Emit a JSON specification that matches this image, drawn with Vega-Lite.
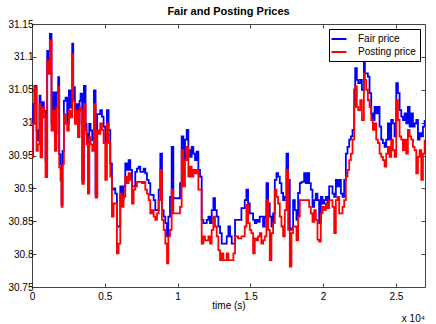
{
  "$schema": "https://vega.github.io/schema/vega-lite/v6.json",
  "width": 393,
  "height": 263,
  "autosize": {"type": "none"},
  "padding": {"left": 32, "top": 24, "right": 11, "bottom": 37},
  "background": "white",
  "title": {"text": "Fair and Posting Prices", "fontSize": 11, "fontWeight": "bold", "font": "Liberation Sans", "color": "black", "offset": 2, "anchor": "middle"},
  "config": {
    "view": {"stroke": "#444444", "strokeWidth": 1},
    "axis": {"grid": false, "domain": false, "tickColor": "#444444", "tickSize": -4, "labelFont": "Liberation Sans", "labelFontSize": 10, "labelColor": "black", "titleFont": "Liberation Sans", "titleFontSize": 10, "titleFontWeight": "normal", "titleColor": "black", "labelFlush": false, "labelOverlap": false},
    "legend": {"strokeColor": "black", "fillColor": "white", "padding": 4, "cornerRadius": 0, "symbolType": "M-1.5,0H1.5", "symbolSize": 100, "symbolStrokeWidth": 2, "labelOffset": 13, "labelFont": "Liberation Sans", "labelFontSize": 10, "labelColor": "black", "rowPadding": 2}
  },
  "datasets": {
    "prices": [
      {"t":0,"fair":30.957,"posting":30.947},{"t":80,"fair":31.028,"posting":30.998},{"t":172,"fair":31.056,"posting":31.054},{"t":310,"fair":30.988,"posting":30.957},{"t":401,"fair":30.973,"posting":30.967},{"t":516,"fair":31.041,"posting":31.028},{"t":585,"fair":30.988,"posting":30.947},{"t":699,"fair":31.031,"posting":31.023},{"t":814,"fair":31.018,"posting":31.008},{"t":929,"fair":30.942,"posting":30.917},
      {"t":1043,"fair":31.109,"posting":31.094},{"t":1158,"fair":31.094,"posting":31.074},{"t":1227,"fair":31.135,"posting":31.125},{"t":1341,"fair":30.998,"posting":30.988},{"t":1456,"fair":31.046,"posting":31.018},{"t":1570,"fair":30.983,"posting":30.957},{"t":1685,"fair":31.046,"posting":31.023},{"t":1800,"fair":31.069,"posting":31.054},{"t":1869,"fair":30.952,"posting":30.932},{"t":1960,"fair":30.937,"posting":30.912},
      {"t":2029,"fair":30.876,"posting":30.872},{"t":2098,"fair":30.957,"posting":30.937},{"t":2190,"fair":31.033,"posting":31.013},{"t":2304,"fair":31.038,"posting":30.998},{"t":2419,"fair":30.998,"posting":30.988},{"t":2533,"fair":31.049,"posting":31.018},{"t":2648,"fair":31.023,"posting":31.008},{"t":2763,"fair":31.12,"posting":31.104},{"t":2831,"fair":31.054,"posting":31.033},{"t":2946,"fair":31.008,"posting":30.998},
      {"t":3061,"fair":31.028,"posting":31.018},{"t":3152,"fair":30.998,"posting":30.978},{"t":3267,"fair":31.033,"posting":31.023},{"t":3336,"fair":31.044,"posting":31.018},{"t":3450,"fair":30.912,"posting":30.907},{"t":3565,"fair":31.056,"posting":31.028},{"t":3680,"fair":30.998,"posting":30.988},{"t":3749,"fair":30.983,"posting":30.967},{"t":3840,"fair":30.897,"posting":30.892},{"t":3932,"fair":30.998,"posting":30.978},
      {"t":4024,"fair":30.988,"posting":30.967},{"t":4138,"fair":30.973,"posting":30.957},{"t":4253,"fair":31.049,"posting":31.028},{"t":4368,"fair":30.891,"posting":30.886},{"t":4482,"fair":31.013,"posting":30.988},{"t":4597,"fair":31.013,"posting":30.983},
      {"t":4688,"fair":31.019,"posting":30.999},{"t":4803,"fair":31.009,"posting":30.989},{"t":4918,"fair":30.994,"posting":30.969},{"t":5032,"fair":30.969,"posting":30.913},{"t":5147,"fair":31.019,"posting":30.999},{"t":5262,"fair":30.989,"posting":30.969},{"t":5376,"fair":30.938,"posting":30.918},{"t":5491,"fair":30.898,"posting":30.857},{"t":5606,"fair":30.9,"posting":30.877},{"t":5720,"fair":30.892,"posting":30.877},
      {"t":5835,"fair":30.842,"posting":30.801},{"t":5949,"fair":30.842,"posting":30.816},{"t":6064,"fair":30.903,"posting":30.892},{"t":6179,"fair":30.882,"posting":30.872},{"t":6293,"fair":30.903,"posting":30.887},{"t":6408,"fair":30.938,"posting":30.918},{"t":6523,"fair":30.928,"posting":30.908},{"t":6637,"fair":30.943,"posting":30.923},{"t":6752,"fair":30.928,"posting":30.913},{"t":6867,"fair":30.903,"posting":30.877},
      {"t":6981,"fair":30.903,"posting":30.898},{"t":7096,"fair":30.925,"posting":30.903},{"t":7211,"fair":30.93,"posting":30.91},{"t":7325,"fair":30.933,"posting":30.91},{"t":7440,"fair":30.925,"posting":30.91},{"t":7554,"fair":30.925,"posting":30.908},{"t":7669,"fair":30.93,"posting":30.91},{"t":7784,"fair":30.923,"posting":30.898},{"t":7898,"fair":30.913,"posting":30.892},{"t":8013,"fair":30.908,"posting":30.882},
      {"t":8127,"fair":30.89,"posting":30.862},{"t":8242,"fair":30.89,"posting":30.867},{"t":8357,"fair":30.882,"posting":30.857},{"t":8471,"fair":30.867,"posting":30.852},{"t":8586,"fair":30.867,"posting":30.862},{"t":8701,"fair":30.898,"posting":30.882},{"t":8815,"fair":30.953,"posting":30.928},{"t":8930,"fair":30.867,"posting":30.852},{"t":9045,"fair":30.857,"posting":30.837},{"t":9159,"fair":30.847,"posting":30.816},
      {"t":9274,"fair":30.827,"posting":30.786},{"t":9366,"fair":30.857,"posting":30.827},{"t":9480,"fair":30.887,"posting":30.837},{"t":9595,"fair":30.963,"posting":30.898},{"t":9709,"fair":30.885,"posting":30.862},{"t":9824,"fair":30.885,"posting":30.862},{"t":9939,"fair":30.885,"posting":30.862},{"t":10053,"fair":30.885,"posting":30.862},{"t":10168,"fair":30.908,"posting":30.872},{"t":10283,"fair":30.979,"posting":30.958},
      {"t":10397,"fair":30.943,"posting":30.903},{"t":10512,"fair":30.974,"posting":30.943},{"t":10627,"fair":30.989,"posting":30.963},{"t":10741,"fair":30.958,"posting":30.918},{"t":10856,"fair":30.948,"posting":30.933},{"t":10970,"fair":30.963,"posting":30.918},{"t":11085,"fair":30.953,"posting":30.928},{"t":11200,"fair":30.943,"posting":30.923},{"t":11314,"fair":30.956,"posting":30.928},{"t":11429,"fair":30.928,"posting":30.898},
      {"t":11544,"fair":30.918,"posting":30.898},{"t":11658,"fair":30.852,"posting":30.816},{"t":11773,"fair":30.847,"posting":30.827},{"t":11888,"fair":30.847,"posting":30.821},{"t":12002,"fair":30.852,"posting":30.821},{"t":12117,"fair":30.857,"posting":30.827},{"t":12231,"fair":30.847,"posting":30.816},{"t":12346,"fair":30.867,"posting":30.837},{"t":12461,"fair":30.885,"posting":30.857},{"t":12575,"fair":30.867,"posting":30.842},
      {"t":12690,"fair":30.857,"posting":30.827},{"t":12805,"fair":30.842,"posting":30.806},{"t":12919,"fair":30.832,"posting":30.791},{"t":13034,"fair":30.816,"posting":30.801},{"t":13148,"fair":30.816,"posting":30.791},{"t":13263,"fair":30.816,"posting":30.791},{"t":13378,"fair":30.827,"posting":30.801},{"t":13492,"fair":30.842,"posting":30.791},{"t":13607,"fair":30.827,"posting":30.791},{"t":13722,"fair":30.816,"posting":30.791},
      {"t":13836,"fair":30.816,"posting":30.801},{"t":13951,"fair":30.852,"posting":30.827},{"t":14043,"fair":30.852,"posting":30.827},{"t":14157,"fair":30.852,"posting":30.824},{"t":14387,"fair":30.87,"posting":30.827},{"t":14616,"fair":30.882,"posting":30.842},{"t":14730,"fair":30.898,"posting":30.875},{"t":14845,"fair":30.877,"posting":30.847},{"t":14960,"fair":30.862,"posting":30.837},{"t":15074,"fair":30.862,"posting":30.832},
      {"t":15189,"fair":30.852,"posting":30.801},{"t":15304,"fair":30.847,"posting":30.824},{"t":15418,"fair":30.852,"posting":30.821},{"t":15533,"fair":30.849,"posting":30.827},{"t":15647,"fair":30.857,"posting":30.832},{"t":15762,"fair":30.857,"posting":30.816},{"t":15877,"fair":30.842,"posting":30.821},{"t":15991,"fair":30.857,"posting":30.827},{"t":16106,"fair":30.908,"posting":30.882},{"t":16221,"fair":30.877,"posting":30.837},
      {"t":16335,"fair":30.857,"posting":30.791},{"t":16450,"fair":30.842,"posting":30.832},{"t":16565,"fair":30.862,"posting":30.847},{"t":16679,"fair":30.913,"posting":30.898},{"t":16794,"fair":30.923,"posting":30.887},{"t":16908,"fair":30.918,"posting":30.877},{"t":17023,"fair":30.908,"posting":30.857},{"t":17138,"fair":30.893,"posting":30.842},{"t":17252,"fair":30.882,"posting":30.827},{"t":17367,"fair":30.887,"posting":30.867},
      {"t":17482,"fair":30.953,"posting":30.928},{"t":17596,"fair":30.913,"posting":30.837},{"t":17711,"fair":30.837,"posting":30.781},{"t":17825,"fair":30.839,"posting":30.832},{"t":17940,"fair":30.882,"posting":30.842},{"t":18055,"fair":30.867,"posting":30.842},{"t":18169,"fair":30.852,"posting":30.821},{"t":18284,"fair":30.893,"posting":30.857},{"t":18399,"fair":30.908,"posting":30.882},{"t":18513,"fair":30.91,"posting":30.882},
      {"t":18628,"fair":30.91,"posting":30.882},{"t":18697,"fair":30.923,"posting":30.882},{"t":18811,"fair":30.908,"posting":30.882},{"t":18926,"fair":30.923,"posting":30.882},{"t":19041,"fair":30.908,"posting":30.872},{"t":19155,"fair":30.898,"posting":30.862},{"t":19270,"fair":30.872,"posting":30.849},{"t":19385,"fair":30.882,"posting":30.867},{"t":19499,"fair":30.892,"posting":30.852},{"t":19614,"fair":30.882,"posting":30.822},
      {"t":19728,"fair":30.847,"posting":30.819},{"t":19843,"fair":30.887,"posting":30.862},{"t":19958,"fair":30.877,"posting":30.872},{"t":20072,"fair":30.882,"posting":30.867},{"t":20187,"fair":30.887,"posting":30.877},{"t":20302,"fair":30.877,"posting":30.87},{"t":20416,"fair":30.903,"posting":30.882},{"t":20531,"fair":30.903,"posting":30.882},{"t":20645,"fair":30.892,"posting":30.872},{"t":20760,"fair":30.887,"posting":30.832},
      {"t":20875,"fair":30.913,"posting":30.882},{"t":20989,"fair":30.903,"posting":30.887},{"t":21104,"fair":30.913,"posting":30.862},{"t":21219,"fair":30.892,"posting":30.862},{"t":21333,"fair":30.887,"posting":30.872},{"t":21448,"fair":30.913,"posting":30.882},{"t":21563,"fair":30.953,"posting":30.918},{"t":21677,"fair":30.963,"posting":30.928},{"t":21792,"fair":30.974,"posting":30.943},{"t":21906,"fair":30.979,"posting":30.953},
      {"t":22021,"fair":30.989,"posting":30.974},{"t":22136,"fair":31.05,"posting":31.024},{"t":22204,"fair":31.083,"posting":31.055},{"t":22319,"fair":31.065,"posting":31.024},{"t":22411,"fair":31.06,"posting":31.019},{"t":22549,"fair":31.065,"posting":31.034},{"t":22663,"fair":31.05,"posting":31.004},{"t":22801,"fair":31.105,"posting":31.075},{"t":22869,"fair":31.075,"posting":31.065},{"t":22961,"fair":31.075,"posting":31.05},
      {"t":23076,"fair":31.07,"posting":31.034},{"t":23190,"fair":31.045,"posting":31.024},{"t":23305,"fair":31.014,"posting":31.004},{"t":23420,"fair":31.004,"posting":30.989},{"t":23534,"fair":31.024,"posting":30.999},{"t":23649,"fair":31.014,"posting":30.974},{"t":23764,"fair":31.024,"posting":30.969},{"t":23878,"fair":30.994,"posting":30.953},{"t":23993,"fair":30.974,"posting":30.948},{"t":24107,"fair":30.969,"posting":30.943},
      {"t":24222,"fair":30.963,"posting":30.933},{"t":24337,"fair":30.974,"posting":30.953},{"t":24451,"fair":30.999,"posting":30.963},{"t":24566,"fair":30.974,"posting":30.948},{"t":24681,"fair":31.004,"posting":30.974},{"t":24795,"fair":30.999,"posting":30.958},{"t":24910,"fair":30.979,"posting":30.948},{"t":25025,"fair":31.06,"posting":31.034},{"t":25139,"fair":31.045,"posting":31.004},{"t":25254,"fair":31.019,"posting":30.979},
      {"t":25368,"fair":31.009,"posting":30.974},{"t":25483,"fair":31.004,"posting":30.958},{"t":25598,"fair":31.014,"posting":30.974},{"t":25712,"fair":30.999,"posting":30.953},{"t":25827,"fair":31.024,"posting":30.989},{"t":25942,"fair":30.994,"posting":30.979},{"t":26056,"fair":31.014,"posting":30.974},{"t":26171,"fair":30.994,"posting":30.963},{"t":26286,"fair":30.999,"posting":30.958},{"t":26400,"fair":31.004,"posting":30.923},
      {"t":26515,"fair":30.974,"posting":30.948},{"t":26630,"fair":30.984,"posting":30.958},{"t":26744,"fair":30.979,"posting":30.913},{"t":26859,"fair":30.994,"posting":30.953},{"t":26974,"fair":31.004,"posting":30.974}
    ]
  },
  "layer": [
    {
      "data": {"name": "prices"},
      "transform": [{"fold": ["fair", "posting"], "as": ["series", "price"]}],
      "mark": {"type": "line", "interpolate": "step-after", "strokeWidth": 1.8, "clip": true},
      "encoding": {
        "x": {"field": "t", "type": "quantitative", "scale": {"domain": [0, 27000], "nice": false, "zero": false},
              "axis": {"orient": "bottom", "values": [0, 5000, 10000, 15000, 20000, 25000], "labelExpr": "format(datum.value/10000, '~g')", "title": "time (s)", "labelPadding": 8, "titlePadding": -1}},
        "y": {"field": "price", "type": "quantitative", "scale": {"domain": [30.75, 31.15], "nice": false, "zero": false},
              "axis": {"orient": "left", "values": [30.75, 30.8, 30.85, 30.9, 30.95, 31, 31.05, 31.1, 31.15], "format": "~g", "title": null, "labelPadding": 3}},
        "color": {"field": "series", "type": "nominal", "scale": {"domain": ["fair", "posting"], "range": ["#0000ff", "#ff0000"]},
                  "legend": {"title": null, "orient": "top-right", "offset": 5, "labelExpr": "datum.label == 'fair' ? 'Fair price' : 'Posting price'"}}
      }
    },
    {
      "data": {"values": [{"label": "x 10⁴"}]},
      "mark": {"type": "text", "align": "right", "baseline": "middle", "dy": 32, "font": "Liberation Sans", "fontSize": 10, "color": "black"},
      "encoding": {
        "x": {"datum": 27000, "type": "quantitative", "axis": {"orient": "top", "values": [0, 5000, 10000, 15000, 20000, 25000], "labels": false, "title": null}},
        "y": {"datum": 30.75, "type": "quantitative", "axis": {"orient": "right", "values": [30.75, 30.8, 30.85, 30.9, 30.95, 31, 31.05, 31.1, 31.15], "labels": false, "title": null}},
        "text": {"field": "label"}
      }
    }
  ],
  "resolve": {"axis": {"x": "independent", "y": "independent"}}
}
